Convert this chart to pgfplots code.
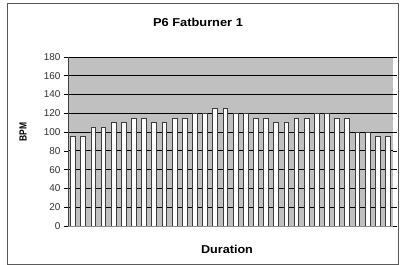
\documentclass[border=0pt]{standalone}
\usepackage{pgfplots}
\pgfplotsset{compat=1.18}
\usepackage{graphicx}
\usepackage{fontspec}
\setmainfont{Liberation Sans}
\definecolor{bgGray}{RGB}{192,192,192}
\definecolor{frameGray}{RGB}{90,90,90}
\definecolor{barEdge}{RGB}{60,60,60}
\definecolor{tickGray}{RGB}{50,50,50}
\begin{document}
\begin{tikzpicture}[x=1bp,y=1bp]
\useasboundingbox (0,0) rectangle (401,265);
\draw[color=frameGray, line width=1bp] (7,0.5) rectangle (398,261);
\begin{axis}[
  at={(68bp,39bp)}, anchor=south west,
  scale only axis, width=325bp, height=169bp,
  xmin=0.5, xmax=32.5, ymin=0, ymax=180,
  ytick={0,20,...,180}, xtick=\empty,
  axis background/.style={fill=bgGray},
  axis line style={draw=none},
  ymajorgrids, grid style={black, line width=0.9bp},
  major tick length=4bp, tick align=outside,
  ytick style={draw=black, line width=0.7bp},
  yticklabel style={font=\fontsize{10}{11}\selectfont, text=tickGray},
  /pgf/number format/assume math mode=true,
  clip=false,
]
\addplot[ybar, bar width=4.8bp, fill=white, draw=barEdge, line width=0.9bp]
coordinates {
(1,95)(2,95)(3,105)(4,105)(5,110)(6,110)(7,115)(8,115)
(9,110)(10,110)(11,115)(12,115)(13,120)(14,120)(15,125)(16,125)
(17,120)(18,120)(19,115)(20,115)(21,110)(22,110)(23,115)(24,115)
(25,120)(26,120)(27,115)(28,115)(29,100)(30,100)(31,95)(32,95)
};
\draw[color=black!75, line width=0.9bp] (rel axis cs:0,0) -- (rel axis cs:0,1);
\draw[color=black!45, line width=0.6bp] (rel axis cs:0,0) -- (rel axis cs:1,0);
\end{axis}
\node[font=\fontsize{11.5}{12}\selectfont\bfseries] at (198,243) {\scalebox{1.12}[1]{P6 Fatburner 1}};
\node[font=\fontsize{11.5}{12}\selectfont\bfseries] at (227,16) {\scalebox{1.1}[1]{Duration}};
\node[font=\fontsize{9}{10}\selectfont\bfseries, rotate=90] at (23,133) {\scalebox{0.95}[1.15]{BPM}};
\end{tikzpicture}
\end{document}
